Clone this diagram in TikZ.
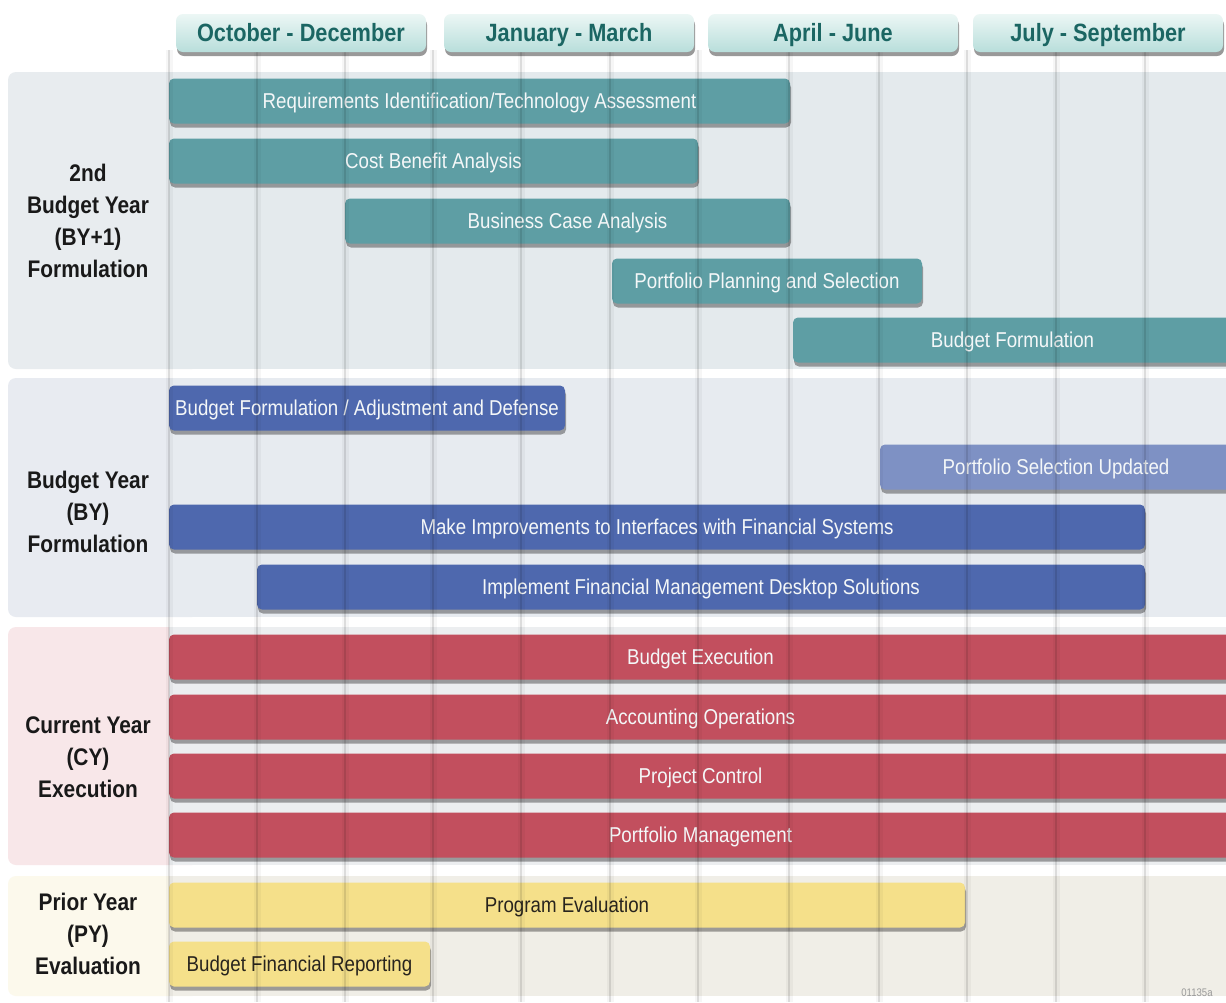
\documentclass[tikz,border=0pt]{standalone}
\usepackage{fontspec}
\setmainfont{Liberation Sans}[FakeStretch=0.87]
\usetikzlibrary{shadows}

\definecolor{tealbar}{RGB}{94,158,164}
\definecolor{bluebar}{RGB}{78,104,174}
\definecolor{paleblue}{RGB}{126,145,196}
\definecolor{redbar}{RGB}{194,79,94}
\definecolor{yellowbar}{RGB}{245,224,138}
\definecolor{bartext}{RGB}{244,247,248}
\definecolor{darktext}{RGB}{40,36,30}
\definecolor{headtext}{RGB}{27,102,99}
\definecolor{headtop}{RGB}{236,247,245}
\definecolor{headbot}{RGB}{184,222,219}
\definecolor{gonelabel}{RGB}{232,236,239}
\definecolor{gonechart}{RGB}{228,234,237}
\definecolor{gtwolabel}{RGB}{232,235,241}
\definecolor{gtwochart}{RGB}{231,235,240}
\definecolor{gthreelabel}{RGB}{248,231,233}
\definecolor{gthreechart}{RGB}{236,238,240}
\definecolor{gfourlabel}{RGB}{252,249,236}
\definecolor{gfourchart}{RGB}{240,238,231}

\tikzstyle{task}=[rounded corners=5pt,inner sep=0pt,minimum height=45pt,
  text height=15.5pt,text depth=1.5pt,
  font=\fontsize{21.5}{26}\selectfont,
  drop shadow={shadow xshift=1pt,shadow yshift=-4pt,opacity=0.35,fill=black}]
\tikzstyle{quarter}=[rounded corners=7pt,inner sep=0pt,minimum height=38pt,
  text height=18pt,text depth=2pt,
  minimum width=250pt,top color=headtop,bottom color=headbot,text=headtext,
  font=\fontsize{25}{28}\selectfont\bfseries,
  drop shadow={shadow xshift=1pt,shadow yshift=-4pt,opacity=0.4,fill=black}]
\tikzstyle{grouplabel}=[align=center,text=black!90,
  font=\fontsize{24}{32}\selectfont\bfseries]
\tikzstyle{gridline}=[line width=2pt,black,opacity=0.10]
\tikzstyle{gridglow}=[line width=7pt,black,opacity=0.035]

\begin{document}
\begin{tikzpicture}[x=1pt, y=-1pt]
    \clip (0,0) rectangle (1226,1002);
    \fill[white] (0,0) rectangle (1226,1002);
    % First the group panels
    \foreach \ya/\yb/\lcol/\ccol in {72/369/gonelabel/gonechart, 378/617/gtwolabel/gtwochart,
        627/865/gthreelabel/gthreechart, 876/996/gfourlabel/gfourchart} {
        \fill[\lcol, rounded corners=8pt] (8,\ya) rectangle (200,\yb);
        \fill[\ccol] (169,\ya) rectangle (1226,\yb);
    }
    % Group labels
    \node[grouplabel] (lab1) at (88,221) {2nd\\Budget Year\\(BY+1)\\Formulation};
    \node[grouplabel] (lab2) at (88,512) {Budget Year\\(BY)\\Formulation};
    \node[grouplabel] (lab3) at (88,757) {Current Year\\(CY)\\Execution};
    \node[grouplabel] (lab4) at (88,934) {Prior Year\\(PY)\\Evaluation};
    % Then the task bars
    \foreach \name/\xa/\xb/\y/\col/\fg/\txt in {
        req/169/790/101/tealbar/bartext/{Requirements Identification/Technology Assessment},
        cba/169/698/161/tealbar/bartext/{Cost Benefit Analysis},
        bca/345/790/221/tealbar/bartext/{Business Case Analysis},
        pps/612/922/281/tealbar/bartext/{Portfolio Planning and Selection},
        bfn/793/1232/340/tealbar/bartext/{Budget Formulation},
        bfa/169/565/408/bluebar/bartext/{Budget Formulation / Adjustment and Defense},
        psu/880/1232/467/paleblue/bartext/{Portfolio Selection Updated},
        mif/169/1145/527/bluebar/bartext/{Make Improvements to Interfaces with Financial Systems},
        ifm/257/1145/587/bluebar/bartext/{Implement Financial Management Desktop Solutions},
        bex/169/1232/657/redbar/bartext/{Budget Execution},
        aop/169/1232/717/redbar/bartext/{Accounting Operations},
        pco/169/1232/776/redbar/bartext/{Project Control},
        pma/169/1232/835/redbar/bartext/{Portfolio Management},
        pev/169/965/905/yellowbar/darktext/{Program Evaluation},
        bfr/169/430/964/yellowbar/darktext/{Budget Financial Reporting}}
        \node[task, fill=\col, text=\fg, minimum width={(\xb-\xa)*1pt}] (\name) at ({(\xa+\xb)/2},\y) {\txt};
    % Month lines over everything
    \foreach \x in {169,257,345,433,521,610,698,789,879,967,1056,1145} {
        \draw[gridglow] (\x,50) -- (\x,1002);
        \draw[gridline] (\x,50) -- (\x,1002);
    }
    % Quarter headers
    \foreach \name/\x/\txt in {oct/301/October - December, jan/569/January - March,
        apr/833/April - June, jul/1098/July - September}
        \node[quarter] (\name) at (\x,33) {\txt};
    \node[text=black!40, font=\fontsize{11}{12}\selectfont] (code) at (1197,993) {01135a};
\end{tikzpicture}
\end{document}
